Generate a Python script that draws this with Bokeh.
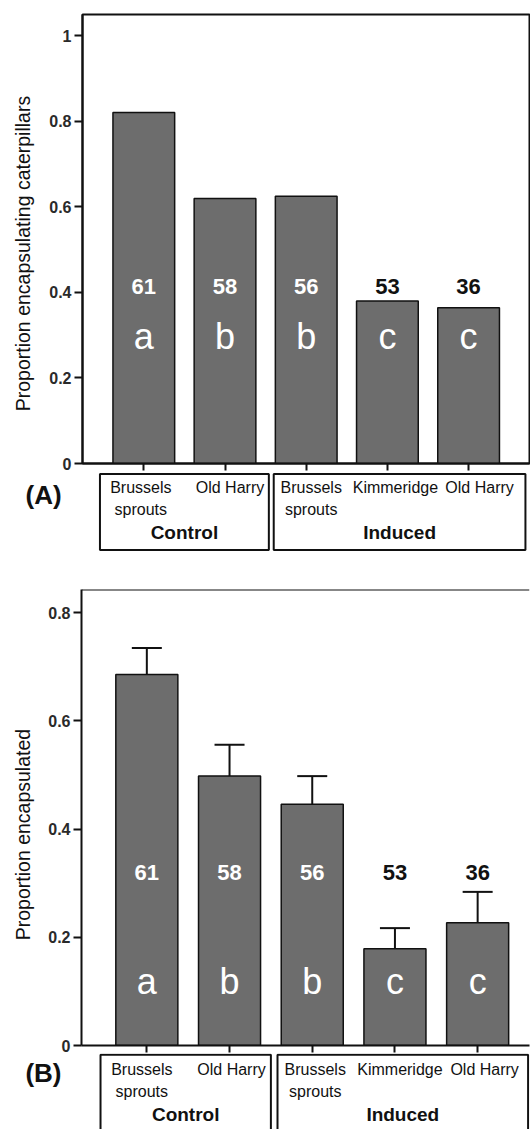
from bokeh.plotting import figure
from bokeh.models import (Range1d, FixedTicker, ColumnDataSource, Whisker, TeeHead,
                          Span, CustomJSTickFormatter)
from bokeh.layouts import column, row
from bokeh.embed import file_html
from bokeh.resources import INLINE
from bokeh.core.properties import value

# ---------------- data ----------------
categories = ["Brussels sprouts", "Old Harry", "Brussels sprouts", "Kimmeridge", "Old Harry"]
label_line1 = ["Brussels", "Old Harry", "Brussels", "Kimmeridge", "Old Harry"]
label_line2 = ["sprouts", "", "sprouts", "", ""]
groups = ["Control", "Induced"]
group_first = [1, 3]          # first category (1-based) of each group
group_last = [2, 5]           # last category (1-based) of each group
sample_sizes = ["61", "58", "56", "53", "36"]
letters = ["a", "b", "b", "c", "c"]
prop_caterpillars = [0.821, 0.620, 0.625, 0.380, 0.364]
prop_encapsulated = [0.686, 0.498, 0.446, 0.179, 0.227]
prop_encapsulated_upper = [0.735, 0.556, 0.498, 0.217, 0.284]
yticks_a = [0, 0.2, 0.4, 0.6, 0.8, 1]
yticks_b = [0, 0.2, 0.4, 0.6, 0.8]

# ---------------- style ----------------
FONT = "Liberation Sans"
INK = "#111111"
BAR = "#6d6d6d"
number_colors = ["white", "white", "white", INK, INK]
W = 530          # page width
TW = 40          # width of the strip holding the y title


def title_strip(text, y_range, cfg):
    p = figure(width=TW, height=cfg["h_main"], x_range=Range1d(0, TW), y_range=y_range,
               x_axis_location=None, y_axis_location=None, toolbar_location=None,
               output_backend="svg", min_border_left=0, min_border_right=0,
               min_border_top=cfg["mbt"], min_border_bottom=cfg["mbb"])
    p.grid.visible = False
    p.outline_line_color = None
    p.text(x=[22.5], y=[cfg["title_y"]], text=[text], angle=1.5707963267948966,
           text_color=INK, text_font=value(FONT), text_font_size="19.5px",
           text_align="center", text_baseline="middle")
    return p


def main_panel(vals, upper, yticks, cfg):
    xs = list(range(1, len(categories) + 1))
    p = figure(width=W - TW, height=cfg["h_main"],
               x_range=Range1d(*cfg["xr"]), y_range=Range1d(0, cfg["top"]),
               toolbar_location=None, output_backend="svg",
               min_border_left=cfg["mbl"] - TW, min_border_right=1,
               min_border_top=cfg["mbt"], min_border_bottom=cfg["mbb"])
    p.grid.visible = False
    if cfg["outline"]:
        p.outline_line_color = INK
        p.outline_line_width = 2
        p.outline_line_alpha = 1
    else:
        p.outline_line_color = None
        p.add_layout(Span(location=cfg["top"], dimension="width", line_color=INK, line_width=2))

    ax = p.yaxis[0]
    ax.ticker = FixedTicker(ticks=yticks)
    ax.formatter = CustomJSTickFormatter(code="return String(tick);")
    ax.axis_line_width = 2
    ax.axis_line_color = INK
    ax.major_tick_line_width = 2
    ax.major_tick_line_color = INK
    ax.major_tick_out = 8
    ax.major_tick_in = 0
    ax.minor_tick_line_color = None
    ax.major_label_text_font = FONT
    ax.major_label_text_font_size = "16px"
    ax.major_label_text_font_style = "bold"
    ax.major_label_text_color = "#2a2a2a"
    ax.major_label_standoff = 3

    xa = p.xaxis[0]
    xa.ticker = FixedTicker(ticks=xs)
    xa.formatter = CustomJSTickFormatter(code="return '';")
    xa.major_label_standoff = 0
    xa.axis_line_width = 2
    xa.axis_line_color = INK
    xa.major_tick_line_width = 2
    xa.major_tick_line_color = INK
    xa.major_tick_out = 7
    xa.major_tick_in = 0
    xa.minor_tick_line_color = None

    p.vbar(x=xs, top=vals, bottom=0, width=cfg["bw"], fill_color=BAR,
           line_color=INK, line_width=1.5)

    if upper is not None:
        src = ColumnDataSource(dict(x=xs, lower=vals, upper=upper))
        p.add_layout(Whisker(source=src, base="x", lower="lower", upper="upper",
                             lower_head=None,
                             upper_head=TeeHead(size=30, line_width=2, line_color=INK),
                             line_width=2, line_color=INK))

    p.text(x=xs, y=[cfg["num_y"]] * len(xs), text=sample_sizes, text_color=number_colors,
           text_font=value(FONT), text_font_size="22px", text_font_style="bold",
           text_align="center", text_baseline="middle")
    p.text(x=xs, y=[cfg["let_y"]] * len(xs), text=letters, text_color="white",
           text_font=value(FONT), text_font_size="36px",
           text_align="center", text_baseline="middle")
    return p


def lower_panel(tag, cfg):
    xs = list(range(1, len(categories) + 1))
    x0, x1 = cfg["xr"]
    pxu = (W - cfg["mbl"] - 1) / (x1 - x0)          # px per category unit in the main frame
    # full-width frame, same category scale as the main plot; y = px below the baseline
    p = figure(width=W, height=cfg["h_low"],
               x_range=Range1d(x0 - cfg["mbl"] / pxu, x1),
               y_range=Range1d(cfg["low_y0"], cfg["low_y1"]),
               x_axis_location=None, y_axis_location=None,
               toolbar_location=None, output_backend="svg",
               min_border_left=0, min_border_right=1,
               min_border_top=0, min_border_bottom=0)
    p.grid.visible = False
    p.outline_line_color = None

    p.text(x=xs, y=[-24.3] * len(xs), text=label_line1, x_offset=cfg["dx"],
           text_color=INK, text_font=value(FONT), text_font_size="16px",
           text_align="center", text_baseline="middle")
    p.text(x=xs, y=[-45.5] * len(xs), text=label_line2, x_offset=cfg["dx"],
           text_color=INK, text_font=value(FONT), text_font_size="16px",
           text_align="center", text_baseline="middle")

    lefts = [g - pl for g, pl in zip(group_first, cfg["pad_l"])]
    rights = [g + pr for g, pr in zip(group_last, cfg["pad_r"])]
    p.quad(left=lefts, right=rights, top=[cfg["box_top"]] * 2, bottom=[cfg["box_bot"]] * 2,
           fill_color=None, line_color=INK, line_width=2)
    p.text(x=[(l + r) / 2 for l, r in zip(lefts, rights)], y=[-69.3] * 2, text=groups,
           text_color=INK, text_font=value(FONT), text_font_size="19px",
           text_font_style="bold", text_align="center", text_baseline="middle")

    p.text(x=[cfg["tag_x"]], y=[cfg["tag_y"]], text=[tag], text_color=INK,
           text_font=value(FONT), text_font_size="26px", text_font_style="bold",
           text_align="center", text_baseline="middle")
    return p


cfg_a = dict(h_main=472, h_low=98, xr=(0.245, 5.75), top=1.05, mbl=82, mbt=14, mbb=9,
             low_y0=-107, low_y1=-9, title_y=0.491,
             bw=0.76, num_y=0.413, let_y=0.297, outline=True,
             dx=[-3, 5, 5, 8, 11], pad_l=[0.54, 0.40], pad_r=[0.54, 0.70],
             box_top=-10.6, box_bot=-86.6, tag_x=-0.235, tag_y=-31)
cfg_b = dict(h_main=483, h_low=76, xr=(0.21, 5.627), top=0.843, mbl=81, mbt=19, mbb=8,
             low_y0=-84, low_y1=-8, title_y=0.39,
             bw=0.75, num_y=0.320, let_y=0.118, outline=False,
             dx=[-5, 2, 3, 5, 7], pad_l=[0.56, 0.42], pad_r=[0.50, 0.61],
             box_top=-9.3, box_bot=-120, tag_x=-0.25, tag_y=-27)

pa = main_panel(prop_caterpillars, None, yticks_a, cfg_a)
ta = title_strip("Proportion encapsulating caterpillars", pa.y_range, cfg_a)
pa_low = lower_panel("(A)", cfg_a)
pb = main_panel(prop_encapsulated, prop_encapsulated_upper, yticks_b, cfg_b)
tb = title_strip("Proportion encapsulated", pb.y_range, cfg_b)
pb_low = lower_panel("(B)", cfg_b)

layout = column(row(ta, pa), pa_low, row(tb, pb), pb_low)
open("out.html", "w").write(file_html(layout, INLINE))
